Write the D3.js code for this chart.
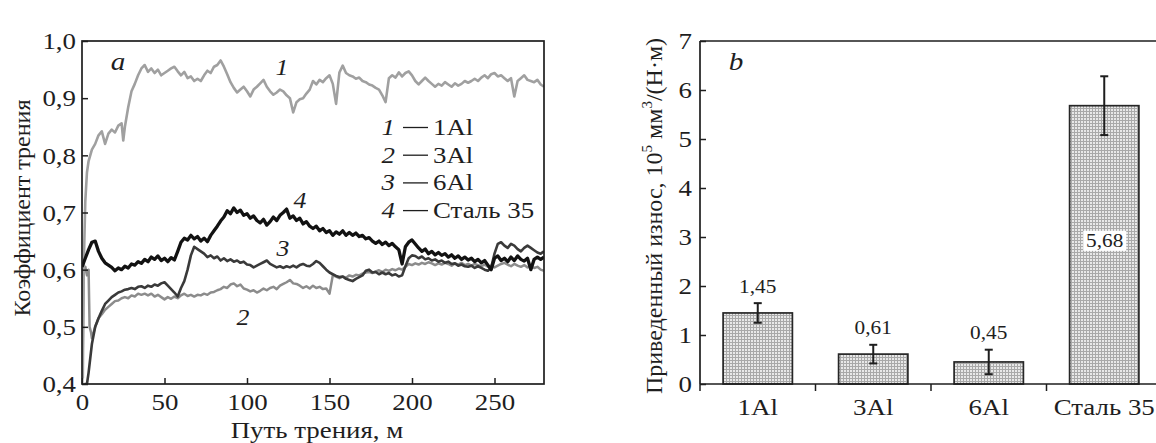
<!DOCTYPE html>
<html><head><meta charset="utf-8">
<script src="https://cdn.jsdelivr.net/npm/d3@7"></script>
<style>
body{margin:0;background:#fff;}
svg{display:block;font-family:"Liberation Serif","Times New Roman",serif;}
</style></head><body>
<svg id="c" width="1156" height="443"></svg>
<script>
// ---------- Panel a: friction coefficient vs distance ----------
const xTicksA = [0, 50, 100, 150, 200, 250];
const yTicksA = [0.4, 0.5, 0.6, 0.7, 0.8, 0.9, 1.0];
const legendNums = ["1", "2", "3", "4"];
const legendNames = ["1Al", "3Al", "6Al", "Сталь 35"];

// series 1 — 1Al  [distance m, coefficient]
const series1 = [[0.5,0.41],[1,0.6],[2,0.72],[3,0.77],[4,0.79],[6,0.81],[8,0.82],[10,0.835],[12,0.842],[14,0.82],[16,0.838],[18,0.845],[20,0.84],[22,0.852],[24,0.856],[25,0.826],[26,0.85],[28,0.884],[30,0.912],[32,0.925],[34,0.94],[36,0.952],[38,0.958],[40,0.946],[42,0.952],[44,0.944],[46,0.95],[48,0.94],[50,0.944],[52,0.948],[54,0.952],[56,0.955],[58,0.947],[60,0.94],[62,0.946],[64,0.935],[66,0.938],[68,0.93],[70,0.934],[72,0.93],[74,0.94],[76,0.948],[78,0.944],[80,0.955],[82,0.958],[84,0.966],[86,0.955],[88,0.942],[90,0.928],[92,0.918],[94,0.91],[96,0.915],[98,0.92],[100,0.912],[102,0.903],[104,0.915],[106,0.92],[108,0.926],[110,0.932],[112,0.92],[114,0.912],[116,0.906],[118,0.91],[120,0.915],[122,0.912],[124,0.905],[126,0.9],[128,0.875],[130,0.893],[132,0.898],[134,0.9],[136,0.908],[138,0.915],[140,0.93],[142,0.924],[144,0.932],[146,0.928],[148,0.935],[150,0.94],[152,0.925],[154,0.89],[156,0.945],[158,0.957],[160,0.944],[162,0.94],[164,0.938],[166,0.934],[168,0.936],[170,0.93],[172,0.928],[174,0.924],[176,0.922],[178,0.918],[180,0.915],[182,0.905],[184,0.893],[186,0.935],[188,0.94],[190,0.936],[192,0.945],[194,0.938],[196,0.944],[198,0.947],[200,0.94],[202,0.93],[204,0.924],[206,0.93],[208,0.936],[210,0.93],[212,0.925],[214,0.92],[216,0.925],[218,0.922],[220,0.928],[222,0.924],[224,0.92],[226,0.926],[228,0.922],[230,0.925],[232,0.93],[234,0.927],[236,0.93],[238,0.934],[240,0.93],[242,0.936],[244,0.94],[246,0.935],[248,0.942],[250,0.944],[252,0.938],[254,0.94],[256,0.935],[258,0.93],[260,0.935],[262,0.903],[264,0.93],[266,0.935],[268,0.94],[270,0.932],[272,0.93],[274,0.928],[276,0.932],[278,0.924],[280,0.92]];

// series 2 — 3Al
const series2 = [[0.3,0.42],[1,0.6],[2,0.605],[3,0.59],[4,0.6],[4.6,0.5],[5.5,0.49],[6,0.48],[8,0.5],[10,0.515],[12,0.522],[14,0.53],[16,0.535],[18,0.54],[20,0.545],[22,0.546],[24,0.55],[26,0.552],[28,0.55],[30,0.555],[32,0.553],[34,0.558],[36,0.556],[38,0.558],[40,0.555],[42,0.558],[44,0.553],[46,0.556],[48,0.552],[50,0.548],[52,0.552],[54,0.549],[56,0.553],[58,0.55],[60,0.555],[62,0.558],[64,0.554],[66,0.556],[68,0.553],[70,0.556],[72,0.555],[74,0.558],[76,0.556],[78,0.56],[80,0.561],[82,0.564],[84,0.566],[86,0.57],[88,0.568],[90,0.574],[92,0.576],[94,0.571],[96,0.574],[98,0.567],[100,0.565],[102,0.562],[104,0.564],[106,0.56],[108,0.563],[110,0.567],[112,0.564],[114,0.568],[116,0.57],[118,0.566],[120,0.572],[122,0.575],[124,0.578],[126,0.582],[128,0.576],[130,0.575],[132,0.572],[134,0.568],[136,0.571],[138,0.567],[140,0.572],[142,0.568],[144,0.57],[146,0.566],[148,0.567],[150,0.558],[152,0.59],[154,0.588],[156,0.585],[158,0.588],[160,0.586],[162,0.59],[164,0.588],[166,0.591],[168,0.59],[170,0.593],[172,0.595],[174,0.596],[176,0.594],[178,0.597],[180,0.599],[182,0.596],[184,0.6],[186,0.598],[188,0.601],[190,0.599],[192,0.602],[194,0.6],[196,0.605],[198,0.61],[200,0.608],[202,0.611],[204,0.609],[206,0.612],[208,0.61],[210,0.613],[212,0.611],[214,0.608],[216,0.611],[218,0.609],[220,0.612],[222,0.61],[224,0.607],[226,0.611],[228,0.609],[230,0.612],[232,0.608],[234,0.61],[236,0.607],[238,0.61],[240,0.608],[242,0.606],[244,0.609],[246,0.605],[248,0.607],[250,0.604],[252,0.607],[254,0.61],[256,0.612],[258,0.609],[260,0.606],[262,0.61],[264,0.607],[266,0.605],[268,0.608],[270,0.604],[272,0.606],[274,0.603],[276,0.605],[278,0.6],[280,0.598]];

// series 3 — 6Al
const series3 = [[1.5,0.4],[3,0.4],[4,0.42],[6,0.47],[8,0.5],[10,0.515],[12,0.528],[14,0.54],[16,0.546],[18,0.552],[20,0.556],[22,0.56],[24,0.562],[26,0.565],[28,0.566],[30,0.568],[32,0.566],[34,0.57],[36,0.571],[38,0.568],[40,0.572],[42,0.57],[44,0.574],[46,0.572],[48,0.576],[50,0.578],[52,0.572],[54,0.566],[56,0.56],[58,0.553],[60,0.568],[62,0.58],[64,0.6],[66,0.625],[68,0.64],[70,0.636],[72,0.632],[74,0.628],[76,0.622],[78,0.625],[80,0.62],[82,0.623],[84,0.616],[86,0.62],[88,0.615],[90,0.618],[92,0.614],[94,0.616],[96,0.612],[98,0.614],[100,0.609],[102,0.608],[104,0.604],[106,0.607],[108,0.61],[110,0.613],[112,0.616],[114,0.61],[116,0.607],[118,0.604],[120,0.606],[122,0.603],[124,0.606],[126,0.604],[128,0.607],[130,0.604],[132,0.608],[134,0.61],[136,0.607],[138,0.606],[140,0.61],[142,0.615],[144,0.612],[146,0.606],[148,0.6],[150,0.595],[152,0.592],[154,0.589],[156,0.587],[158,0.588],[160,0.584],[162,0.582],[164,0.58],[166,0.584],[168,0.587],[170,0.59],[172,0.598],[174,0.6],[176,0.595],[178,0.596],[180,0.592],[182,0.595],[184,0.592],[186,0.594],[188,0.59],[190,0.592],[192,0.588],[194,0.59],[196,0.606],[198,0.62],[200,0.625],[202,0.624],[204,0.62],[206,0.623],[208,0.618],[210,0.62],[212,0.616],[214,0.618],[216,0.614],[218,0.616],[220,0.612],[222,0.614],[224,0.61],[226,0.611],[228,0.607],[230,0.609],[232,0.606],[234,0.605],[236,0.607],[238,0.603],[240,0.606],[242,0.603],[244,0.6],[246,0.598],[248,0.604],[250,0.628],[252,0.645],[254,0.648],[256,0.642],[258,0.638],[260,0.645],[262,0.642],[264,0.636],[266,0.632],[268,0.638],[270,0.642],[272,0.638],[274,0.634],[276,0.63],[278,0.628],[280,0.632]];

// series 4 — Сталь 35
const series4 = [[0,0.605],[2,0.62],[4,0.635],[6,0.648],[8,0.65],[10,0.632],[12,0.62],[14,0.612],[16,0.608],[18,0.604],[20,0.598],[22,0.603],[24,0.6],[26,0.606],[28,0.603],[30,0.61],[32,0.608],[34,0.614],[36,0.611],[38,0.618],[40,0.614],[42,0.622],[44,0.618],[46,0.624],[48,0.616],[50,0.62],[52,0.614],[54,0.621],[56,0.617],[58,0.632],[60,0.648],[62,0.655],[64,0.652],[66,0.66],[68,0.654],[70,0.658],[72,0.65],[74,0.655],[76,0.649],[78,0.66],[80,0.668],[82,0.676],[84,0.685],[86,0.692],[88,0.703],[90,0.698],[92,0.708],[94,0.7],[96,0.704],[98,0.695],[100,0.698],[102,0.69],[104,0.694],[106,0.686],[108,0.682],[110,0.688],[112,0.678],[114,0.684],[116,0.692],[118,0.686],[120,0.695],[122,0.7],[124,0.706],[126,0.69],[128,0.694],[130,0.686],[132,0.69],[134,0.68],[136,0.684],[138,0.676],[140,0.672],[142,0.676],[144,0.668],[146,0.672],[148,0.665],[150,0.668],[152,0.66],[154,0.666],[156,0.662],[158,0.668],[160,0.66],[162,0.665],[164,0.66],[166,0.664],[168,0.658],[170,0.66],[172,0.654],[174,0.656],[176,0.65],[178,0.646],[180,0.65],[182,0.644],[184,0.648],[186,0.642],[188,0.646],[190,0.64],[192,0.635],[194,0.61],[196,0.64],[198,0.648],[200,0.652],[202,0.645],[204,0.638],[206,0.632],[208,0.636],[210,0.628],[212,0.632],[214,0.626],[216,0.63],[218,0.625],[220,0.628],[222,0.622],[224,0.626],[226,0.62],[228,0.624],[230,0.618],[232,0.622],[234,0.617],[236,0.62],[238,0.614],[240,0.618],[242,0.612],[244,0.616],[246,0.608],[248,0.6],[250,0.62],[252,0.624],[254,0.616],[256,0.62],[258,0.614],[260,0.622],[262,0.616],[264,0.624],[266,0.618],[268,0.615],[270,0.62],[272,0.6],[274,0.618],[276,0.622],[278,0.618],[280,0.622]];

// ---------- Panel b: reduced wear ----------
const categories = ["1Al", "3Al", "6Al", "Сталь 35"];
const wearValues = [1.45, 0.61, 0.45, 5.68];
const wearErrors = [0.2, 0.19, 0.25, 0.6];
const wearLabels = ["1,45", "0,61", "0,45", "5,68"];
const yTicksB = [0, 1, 2, 3, 4, 5, 6, 7];

const svg = d3.select("#c");
const comma = d => d.toFixed(1).replace(".", ",");
const INK = "#1e1e1e";
const FS = 24;

// ===== Panel a =====
const A = {l: 82, r: 544, t: 41, b: 384};
const xA = d3.scaleLinear().domain([0, 280]).range([A.l, A.r]);
const yA = d3.scaleLinear().domain([0.4, 1.0]).range([A.b, A.t]);

const defs = svg.append("defs");
defs.append("clipPath").attr("id", "clipA")
  .append("rect").attr("x", A.l).attr("y", A.t).attr("width", A.r - A.l).attr("height", A.b - A.t);

const line = d3.line().x(d => xA(d[0])).y(d => yA(d[1]));
const gLines = svg.append("g").attr("clip-path", "url(#clipA)");
const seriesDefs = [
  {data: series2, color: "#8c8c8c", w: 2.5},
  {data: series3, color: "#3a3a3a", w: 2.6},
  {data: series1, color: "#a0a0a0", w: 2.6},
  {data: series4, color: "#121212", w: 3.3}
];
seriesDefs.forEach(s => {
  gLines.append("path").datum(s.data).attr("d", line)
    .attr("fill", "none").attr("stroke", s.color).attr("stroke-width", s.w)
    .attr("stroke-linejoin", "round");
});

svg.append("rect").attr("x", A.l).attr("y", A.t).attr("width", A.r - A.l).attr("height", A.b - A.t)
  .attr("fill", "none").attr("stroke", INK).attr("stroke-width", 1.7);

const axA_x = svg.append("g").attr("transform", `translate(0,${A.b})`)
  .call(d3.axisBottom(xA).tickValues(xTicksA).tickSize(-6).tickPadding(9).tickFormat(d3.format("d")));
const axA_y = svg.append("g").attr("transform", `translate(${A.l},0)`)
  .call(d3.axisLeft(yA).tickValues(yTicksA).tickSize(-6).tickPadding(6).tickFormat(comma));
[axA_x, axA_y].forEach(g => {
  g.select(".domain").remove();
  g.selectAll(".tick line").attr("stroke", INK).attr("stroke-width", 1.5);
  g.selectAll("text").attr("font-family", "Liberation Serif").attr("font-size", FS).attr("fill", INK).classed("hs", true);
});

svg.append("text").attr("class", "hs").attr("x", 317).attr("y", 438).attr("text-anchor", "middle")
  .attr("font-size", FS).attr("fill", INK).text("Путь трения, м");
svg.append("text").attr("transform", `translate(30,208) rotate(-90)`)
  .attr("text-anchor", "middle").attr("font-size", 24).attr("fill", INK).text("Коэффициент трения");

svg.append("text").attr("class", "hs").attr("x", 118).attr("y", 70).attr("text-anchor", "middle")
  .attr("font-style", "italic").attr("font-size", 26).attr("fill", INK).text("a");
const curveLabels = [["1", 282, 75], ["4", 300, 208], ["3", 283, 256], ["2", 243, 325]];
curveLabels.forEach(c => svg.append("text").attr("class", "hs").attr("x", c[1]).attr("y", c[2]).attr("text-anchor", "middle")
  .attr("font-style", "italic").attr("font-size", 23).attr("fill", INK).text(c[0]));

legendNums.forEach((n, i) => {
  const y = 127 + i * 27.7;
  const g = svg.append("g").attr("font-size", FS).attr("fill", INK);
  g.append("text").attr("class", "hs").attr("x", 395).attr("y", y + 8).attr("text-anchor", "end").attr("font-style", "italic").text(n);
  g.append("line").attr("x1", 403).attr("x2", 428).attr("y1", y + 0.5).attr("y2", y + 0.5).attr("stroke", INK).attr("stroke-width", 1.3);
  g.append("text").attr("class", "hs").attr("x", 433).attr("y", y + 8).text(legendNames[i]);
});

// ===== Panel b =====
const B = {l: 700, r: 1162, t: 41, b: 384};
const xB = d3.scaleBand().domain(categories).range([B.l, B.r]).paddingInner(0.4).paddingOuter(0.2);
const yB = d3.scaleLinear().domain([0, 7]).range([B.b, B.t]);

const pat = defs.append("pattern").attr("id", "mesh").attr("patternUnits", "userSpaceOnUse")
  .attr("width", 3).attr("height", 3);
pat.append("rect").attr("width", 3).attr("height", 3).attr("fill", "#e8e8e8");
pat.append("rect").attr("width", 3).attr("height", 1).attr("fill", "#a9a9a9");
pat.append("rect").attr("width", 1).attr("height", 3).attr("fill", "#a9a9a9");

svg.append("g").selectAll("rect").data(categories).join("rect")
  .attr("x", d => xB(d)).attr("width", xB.bandwidth())
  .attr("y", (d, i) => yB(wearValues[i])).attr("height", (d, i) => yB(0) - yB(wearValues[i]))
  .attr("fill", "url(#mesh)").attr("stroke", "#262626").attr("stroke-width", 1.7);

const eb = svg.append("g").attr("stroke", INK).attr("stroke-width", 2);
categories.forEach((c, i) => {
  const cx = xB(c) + xB.bandwidth() / 2;
  const y1 = yB(wearValues[i] + wearErrors[i]), y2 = yB(wearValues[i] - wearErrors[i]);
  eb.append("line").attr("x1", cx).attr("x2", cx).attr("y1", y1).attr("y2", y2);
  eb.append("line").attr("x1", cx - 4).attr("x2", cx + 4).attr("y1", y1).attr("y2", y1);
  eb.append("line").attr("x1", cx - 4).attr("x2", cx + 4).attr("y1", y2).attr("y2", y2);
});

categories.forEach((c, i) => {
  const cx = xB(c) + xB.bandwidth() / 2;
  if (i < 3) {
    svg.append("text").attr("class", "hs").attr("x", cx).attr("y", yB(wearValues[i] + wearErrors[i]) - 10.5)
      .attr("text-anchor", "middle").attr("font-size", 19).attr("fill", INK).text(wearLabels[i]);
  } else {
    const ly = yB(wearValues[i] * 0.5) - 4;
    svg.append("rect").attr("x", cx - 21).attr("y", ly - 10).attr("width", 43).attr("height", 20).attr("fill", "#fff");
    svg.append("text").attr("class", "hs").attr("x", cx + 0.5).attr("y", ly + 6.5).attr("text-anchor", "middle")
      .attr("font-size", 19).attr("fill", INK).text(wearLabels[i]);
  }
});

svg.append("line").attr("x1", B.l).attr("x2", 1156).attr("y1", B.t).attr("y2", B.t).attr("stroke", INK).attr("stroke-width", 1.7);
svg.append("line").attr("x1", B.l).attr("x2", B.l).attr("y1", B.t).attr("y2", B.b).attr("stroke", INK).attr("stroke-width", 1.7);
svg.append("line").attr("x1", B.l).attr("x2", 1156).attr("y1", B.b).attr("y2", B.b).attr("stroke", INK).attr("stroke-width", 1.7);

const axB_y = svg.append("g").attr("transform", `translate(${B.l},0)`)
  .call(d3.axisLeft(yB).tickValues(yTicksB).tickSize(-6).tickPadding(8).tickFormat(d3.format("d")));
axB_y.select(".domain").remove();
axB_y.selectAll(".tick line").attr("stroke", INK).attr("stroke-width", 1.5);
axB_y.selectAll("text").attr("font-family", "Liberation Serif").attr("font-size", FS).attr("fill", INK).classed("hs", true);

const sepG = svg.append("g").attr("stroke", INK).attr("stroke-width", 1.5);
categories.slice(1).forEach(c => {
  const bx = xB(c) - xB.step() * xB.paddingInner() / 2;
  sepG.append("line").attr("x1", bx).attr("x2", bx).attr("y1", B.b).attr("y2", B.b + 7);
});
sepG.append("line").attr("x1", B.l).attr("x2", B.l).attr("y1", B.b).attr("y2", B.b + 7);

const axB_x = svg.append("g").attr("transform", `translate(0,${B.b})`)
  .call(d3.axisBottom(xB).tickSize(0).tickPadding(14));
axB_x.select(".domain").remove();
axB_x.selectAll("text").attr("font-family", "Liberation Serif").attr("font-size", FS).attr("fill", INK).classed("hs", true);

svg.append("text").attr("class", "hs").attr("x", 736).attr("y", 70).attr("text-anchor", "middle")
  .attr("font-style", "italic").attr("font-size", 26).attr("fill", INK).text("b");

const yt = svg.append("text").attr("transform", `translate(662,216) rotate(-90)`)
  .attr("text-anchor", "middle").attr("font-size", 24).attr("fill", INK);
yt.append("tspan").text("Приведенный износ, 10");
yt.append("tspan").attr("dy", -10).attr("font-size", 15).text("5");
yt.append("tspan").attr("dy", 10).text(" мм");
yt.append("tspan").attr("dy", -10).attr("font-size", 15).text("3");
yt.append("tspan").attr("dy", 10).text("/(Н·м)");

// horizontal stretch of upright text to mimic the reference's wide glyphs
svg.selectAll("text.hs").each(function() {
  const len = this.getComputedTextLength();
  d3.select(this).attr("textLength", len * 1.12).attr("lengthAdjust", "spacingAndGlyphs");
});
</script>
</body></html>
